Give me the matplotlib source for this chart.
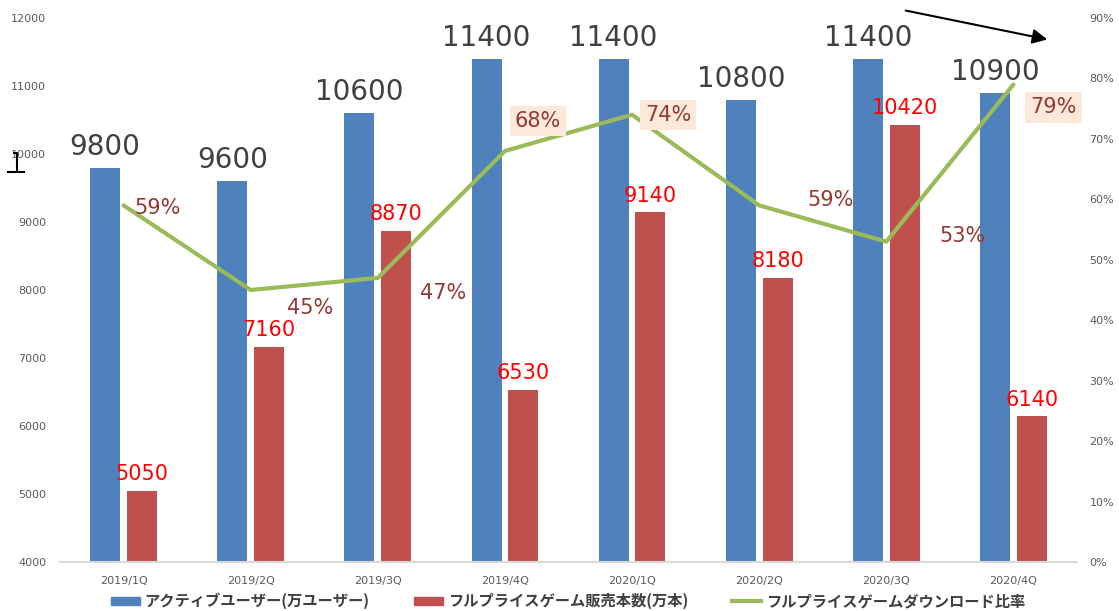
import matplotlib
matplotlib.use("Agg")
import matplotlib.pyplot as plt
from matplotlib.lines import Line2D
from matplotlib.patches import FancyArrowPatch
from matplotlib.ticker import FuncFormatter
import numpy as np

plt.rcParams['font.family'] = ['DejaVu Sans', 'Noto Sans CJK JP']

categories = ["2019/1Q", "2019/2Q", "2019/3Q", "2019/4Q", "2020/1Q", "2020/2Q", "2020/3Q", "2020/4Q"]
active_users = [9800, 9600, 10600, 11400, 11400, 10800, 11400, 10900]
full_sales = [5050, 7160, 8870, 6530, 9140, 8180, 10420, 6140]
dl_ratio = [0.59, 0.45, 0.47, 0.68, 0.74, 0.59, 0.53, 0.79]
series_names = ["アクティブユーザー(万ユーザー)", "フルプライスゲーム販売本数(万本)", "フルプライスゲームダウンロード比率"]
left_ticks = [4000, 5000, 6000, 7000, 8000, 9000, 10000, 11000, 12000]
right_ticks = [0, 0.1, 0.2, 0.3, 0.4, 0.5, 0.6, 0.7, 0.8, 0.9]

# label offsets (pixels) for the percentage labels, and which have a box
pct_offsets = [(34, -3), (59, -18), (65, -15), (33, 30), (36, 0), (71, 5), (76, 6), (40, -23)]
pct_boxed = [False, False, False, True, True, False, False, True]

BLUE = "#4F81BD"
RED = "#C0504D"
GREEN = "#9BBB59"
PCT = "#953735"

W, H = 1119, 611
fig = plt.figure(figsize=(W / 100, H / 100), dpi=100)
ax = fig.add_axes([60 / W, (H - 562) / H, (1077 - 60) / W, (562 - 18) / H])
ax2 = ax.twinx()

x = np.arange(len(categories))
bw = 0.236
off = 0.145
ax.bar(x - off, [v - 4000 for v in active_users], bw, bottom=4000, color=BLUE, zorder=2)
ax.bar(x + off, [v - 4000 for v in full_sales], bw, bottom=4000, color=RED, zorder=2)
ax.set_ylim(4000, 12000)
ax.set_xlim(-0.5, len(categories) - 0.5)
ax.set_yticks(left_ticks)
ax.set_xticks(x)
ax.set_xticklabels(categories)

for xi, v in zip(x, active_users):
    ax.annotate(str(v), (xi - off, v), xytext=(0, 5), textcoords="offset points",
                ha="center", va="bottom", fontsize=20, color="#404040")
for xi, v in zip(x, full_sales):
    ax.annotate(str(v), (xi + off, v), xytext=(0, 5), textcoords="offset points",
                ha="center", va="bottom", fontsize=15, color="#FF0000")

ax2.plot(x, dl_ratio, color=GREEN, lw=3, zorder=3, solid_capstyle="round")
ax2.set_ylim(0, 0.9)
ax2.set_yticks(right_ticks)
ax2.yaxis.set_major_formatter(FuncFormatter(lambda v, p: f"{v*100:.0f}%"))

for xi, v, (dx, dy), boxed in zip(x, dl_ratio, pct_offsets, pct_boxed):
    kw = {}
    if boxed:
        kw["bbox"] = dict(boxstyle="square,pad=0.25", fc="#FDE9D9", ec="none")
    ax2.annotate(f"{v*100:.0f}%", (xi, v), xytext=(dx * 0.72, dy * 0.72), textcoords="offset points",
                 ha="center", va="center", fontsize=15, color=PCT, zorder=5, **kw)

for a in (ax, ax2):
    for s in a.spines.values():
        s.set_visible(False)
    a.tick_params(length=0, labelsize=8, labelcolor="#595959")
ax.spines["bottom"].set_visible(True)
ax.spines["bottom"].set_color("#D9D9D9")
ax.spines["bottom"].set_linewidth(1.5)
ax.tick_params(axis="x", pad=10)
ax.tick_params(axis="y", pad=10)
ax2.tick_params(axis="y", pad=9)

# legend
handles = [plt.Rectangle((0, 0), 1, 1, color=BLUE), plt.Rectangle((0, 0), 1, 1, color=RED),
           Line2D([0], [0], color=GREEN, lw=3)]
fig.legend(handles, series_names, loc="center", bbox_to_anchor=(568 / W, 10 / H), ncol=3, frameon=False,
           prop={"family": "Noto Sans CJK JP", "weight": "bold", "size": 11}, labelcolor="#404040",
           columnspacing=2.9, handlelength=1.9, handleheight=0.45, handletextpad=0.3)

# arrow annotation
fig.add_artist(FancyArrowPatch((903 / W, 1 - 10 / H), (1050 / W, 1 - 40 / H),
                               transform=fig.transFigure, arrowstyle="-|>",
                               mutation_scale=22, color="black", lw=1.5))
# bracket glyph
fig.add_artist(Line2D([14 / W, 17 / W, 17 / W], [1 - 153 / H, 1 - 153 / H, 1 - 171 / H],
                      transform=fig.transFigure, color="black", lw=1.5))
fig.add_artist(Line2D([8 / W, 24 / W], [1 - 172 / H, 1 - 172 / H], transform=fig.transFigure, color="black", lw=1.5))

fig.savefig("out.png", dpi=100)
